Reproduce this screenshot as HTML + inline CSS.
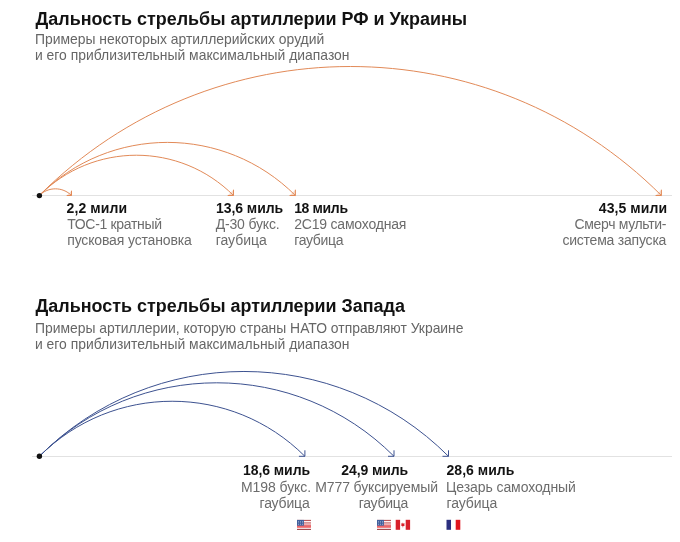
<!DOCTYPE html>
<html lang="ru">
<head>
<meta charset="utf-8">
<title>Дальность стрельбы артиллерии</title>
<style>
html,body{margin:0;padding:0;background:#fff;}
body{width:680px;height:542px;position:relative;overflow:hidden;font-family:"Liberation Sans",Arial,sans-serif;}
.t{position:absolute;left:35.5px;font-weight:bold;font-size:17.95px;line-height:20px;color:#121212;white-space:nowrap;}
.s{position:absolute;left:35px;font-size:13.9px;line-height:16px;color:#666;white-space:nowrap;}
.b,.g{position:absolute;font-size:14px;line-height:16px;white-space:nowrap;}
.b{font-weight:bold;color:#121212;}
.g{color:#6c6c6c;}
svg{position:absolute;left:0;top:0;}
</style>
</head>
<body>
<div class="t" id="t1" style="top:8.7px">Дальность стрельбы артиллерии РФ и Украины</div>
<div class="s" id="s1" style="top:31.3px">Примеры некоторых артиллерийских орудий<br>и его приблизительный максимальный диапазон</div>


<!--LABELS-->
<span class="b" style="left:66.6px;top:199.85px;letter-spacing:0.1px">2,2 мили</span>
<span class="g" style="left:67.2px;top:215.65px;letter-spacing:-0.325px">ТОС-1 кратный</span>
<span class="g" style="left:67.2px;top:231.65px;letter-spacing:-0.141px">пусковая установка</span>
<span class="b" style="left:215.9px;top:199.85px;letter-spacing:-0.037px">13,6 миль</span>
<span class="g" style="left:215.7px;top:215.65px;letter-spacing:-0.167px">Д-30 букс.</span>
<span class="g" style="left:215.7px;top:231.65px;letter-spacing:-0.033px">гаубица</span>
<span class="b" style="left:294.2px;top:199.85px;letter-spacing:-0.35px">18 миль</span>
<span class="g" style="left:294.2px;top:215.65px;letter-spacing:-0.2px">2С19 самоходная</span>
<span class="g" style="left:294.2px;top:231.65px;letter-spacing:-0.317px">гаубица</span>
<span class="b" style="left:598.8px;top:199.85px;letter-spacing:0.075px">43,5 мили</span>
<span class="g" style="left:574.5px;top:215.65px;letter-spacing:-0.333px">Смерч мульти-</span>
<span class="g" style="left:562.4px;top:231.65px;letter-spacing:-0.214px">система запуска</span>
<span class="b" style="left:243.0px;top:462.45px;letter-spacing:-0.062px">18,6 миль</span>
<span class="g" style="left:241.0px;top:478.65px;letter-spacing:-0.078px">M198 букс.</span>
<span class="g" style="left:259.5px;top:494.55px;letter-spacing:-0.167px">гаубица</span>
<span class="b" style="left:341.25px;top:462.45px;letter-spacing:-0.094px">24,9 миль</span>
<span class="g" style="left:315.25px;top:478.65px;letter-spacing:-0.117px">M777 буксируемый</span>
<span class="g" style="left:358.75px;top:494.55px;letter-spacing:-0.292px">гаубица</span>
<span class="b" style="left:446.5px;top:462.45px;letter-spacing:0.031px">28,6 миль</span>
<span class="g" style="left:446.0px;top:478.65px;letter-spacing:-0.078px">Цезарь самоходный</span>
<span class="g" style="left:446.5px;top:494.55px;letter-spacing:-0.083px">гаубица</span>
<!--/LABELS-->
<div class="t" id="t2" style="top:296px">Дальность стрельбы артиллерии Запада</div>
<div class="s" id="s2" style="top:319.5px">Примеры артиллерии, которую страны НАТО отправляют Украине<br>и его приблизительный максимальный диапазон</div>


<svg width="680" height="542" viewBox="0 0 680 542">
<line x1="32" y1="195.5" x2="672" y2="195.5" stroke="#e2e2e2" stroke-width="1"/>
<line x1="32" y1="456.5" x2="672" y2="456.5" stroke="#e2e2e2" stroke-width="1"/>





<!--FLAGS-->
<g transform="translate(297,519.9)"><rect width="14" height="9.9" fill="#fdf3f3"/><rect y="0" width="14" height="0.90" fill="#a83236"/><rect y="2.6" width="14" height="0.90" fill="#b8363a"/><rect y="4.7" width="14" height="1.10" fill="#d8444a"/><rect y="5.8" width="14" height="2.10" fill="#ee6668"/><rect y="9.0" width="14" height="0.90" fill="#8e2226"/><rect width="6.9" height="5.8" fill="#41609c"/><rect x="1.25" y="1.15" width="0.7" height="0.7" fill="#cfd9ee"/><rect x="1.25" y="2.65" width="0.7" height="0.7" fill="#cfd9ee"/><rect x="1.25" y="4.15" width="0.7" height="0.7" fill="#cfd9ee"/><rect x="3.15" y="1.15" width="0.7" height="0.7" fill="#cfd9ee"/><rect x="3.15" y="2.65" width="0.7" height="0.7" fill="#cfd9ee"/><rect x="3.15" y="4.15" width="0.7" height="0.7" fill="#cfd9ee"/><rect x="5.05" y="1.15" width="0.7" height="0.7" fill="#cfd9ee"/><rect x="5.05" y="2.65" width="0.7" height="0.7" fill="#cfd9ee"/><rect x="5.05" y="4.15" width="0.7" height="0.7" fill="#cfd9ee"/></g>
<g transform="translate(377,519.9)"><rect width="14" height="9.9" fill="#fdf3f3"/><rect y="0" width="14" height="0.90" fill="#a83236"/><rect y="2.6" width="14" height="0.90" fill="#b8363a"/><rect y="4.7" width="14" height="1.10" fill="#d8444a"/><rect y="5.8" width="14" height="2.10" fill="#ee6668"/><rect y="9.0" width="14" height="0.90" fill="#8e2226"/><rect width="6.9" height="5.8" fill="#41609c"/><rect x="1.25" y="1.15" width="0.7" height="0.7" fill="#cfd9ee"/><rect x="1.25" y="2.65" width="0.7" height="0.7" fill="#cfd9ee"/><rect x="1.25" y="4.15" width="0.7" height="0.7" fill="#cfd9ee"/><rect x="3.15" y="1.15" width="0.7" height="0.7" fill="#cfd9ee"/><rect x="3.15" y="2.65" width="0.7" height="0.7" fill="#cfd9ee"/><rect x="3.15" y="4.15" width="0.7" height="0.7" fill="#cfd9ee"/><rect x="5.05" y="1.15" width="0.7" height="0.7" fill="#cfd9ee"/><rect x="5.05" y="2.65" width="0.7" height="0.7" fill="#cfd9ee"/><rect x="5.05" y="4.15" width="0.7" height="0.7" fill="#cfd9ee"/></g>
<g transform="translate(395.7,519.8)"><rect width="14.4" height="10" fill="#fff"/><rect width="4.4" height="10" fill="#d8202a"/><rect x="10.0" width="4.4" height="10" fill="#d8202a"/><path d="M7.2,2.6 l0.7,1.3 l1.1,-0.5 l-0.4,1.6 l0.6,0.5 l-1.5,1.0 l-0.3,0 l0,1.1 l-0.4,0 l0,-1.1 l-0.3,0 l-1.5,-1.0 l0.6,-0.5 l-0.4,-1.6 l1.1,0.5 z" fill="#d8202a"/></g>
<g transform="translate(446.5,519.8)"><rect width="4.60" height="10" fill="#2b2f7f"/><rect x="4.60" width="4.60" height="10" fill="#fff"/><rect x="9.20" width="4.60" height="10" fill="#e0161f"/></g>
<!--/FLAGS-->


<!--ARCS-->
<path d="M39.3,195.5 C48.2,186.6 62.6,186.6 71.5,195.5" fill="none" stroke="#e28a58" stroke-width="1.0"/>
<path d="M66.7,195.5 L71.5,195.5 L71.5,190.7" fill="#e28a58" fill-opacity="0.3" stroke="#e28a58" stroke-width="1.0"/>
<path d="M39.3,195.5 C93.0,141.8 179.8,141.8 233.5,195.5" fill="none" stroke="#e28a58" stroke-width="1.0"/>
<path d="M227.7,195.5 L233.5,195.5 L233.5,189.7" fill="#e28a58" fill-opacity="0.3" stroke="#e28a58" stroke-width="1.0"/>
<path d="M39.3,195.5 C110.1,124.7 224.6,124.7 295.4,195.5" fill="none" stroke="#e28a58" stroke-width="1.0"/>
<path d="M289.6,195.5 L295.4,195.5 L295.4,189.7" fill="#e28a58" fill-opacity="0.3" stroke="#e28a58" stroke-width="1.0"/>
<path d="M39.3,195.5 C211.3,23.5 489.4,23.5 661.4,195.5" fill="none" stroke="#e28a58" stroke-width="1.0"/>
<path d="M655.6,195.5 L661.4,195.5 L661.4,189.7" fill="#e28a58" fill-opacity="0.3" stroke="#e28a58" stroke-width="1.0"/>
<path d="M39.4,456.3 C112.8,382.9 231.5,382.9 304.9,456.3" fill="none" stroke="#3d5290" stroke-width="1.0"/>
<path d="M298.9,456.3 L304.9,456.3 L304.9,450.3" fill="none" fill-opacity="0.3" stroke="#3d5290" stroke-width="1.0"/>
<path d="M39.4,456.3 C137.4,358.3 296.0,358.3 394.0,456.3" fill="none" stroke="#3d5290" stroke-width="1.0"/>
<path d="M388.0,456.3 L394.0,456.3 L394.0,450.3" fill="none" fill-opacity="0.3" stroke="#3d5290" stroke-width="1.0"/>
<path d="M39.4,456.3 C152.5,343.2 335.4,343.2 448.5,456.3" fill="none" stroke="#3d5290" stroke-width="1.0"/>
<path d="M442.5,456.3 L448.5,456.3 L448.5,450.3" fill="none" fill-opacity="0.3" stroke="#3d5290" stroke-width="1.0"/>
<!--/ARCS-->
<!--DOTS-->
<circle cx="39.4" cy="195.6" r="2.7" fill="#121212"/>
<circle cx="39.4" cy="456.3" r="2.7" fill="#121212"/>
</svg>
</body>
</html>
